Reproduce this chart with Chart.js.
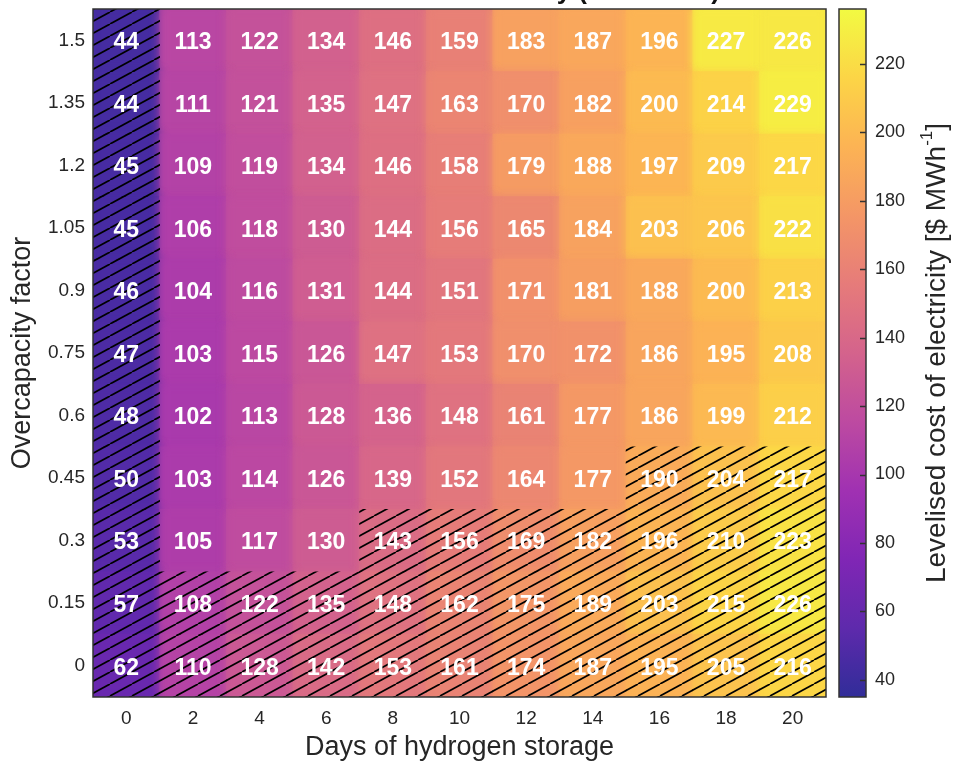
<!DOCTYPE html>
<html>
<head>
<meta charset="utf-8">
<script src="https://cdn.jsdelivr.net/npm/chart.js@4.4.1/dist/chart.umd.min.js"></script>
<style>
    html, body { margin: 0; padding: 0; background: #fff; }
    #wrap { position: relative; width: 955px; height: 765px; }
    #main { position: absolute; left: 0; top: 0; }
    #cbar { position: absolute; left: 830px; top: 0; }
</style>
</head>
<body>
<div id="wrap">
    <canvas id="main" width="830" height="765"></canvas>
    <canvas id="cbar" width="125" height="765"></canvas>
</div>
<script>
// x categories: days of hydrogen storage
const days = ['0', '2', '4', '6', '8', '10', '12', '14', '16', '18', '20'];
// y categories, bottom to top
const overcapacity = ['0', '0.15', '0.3', '0.45', '0.6', '0.75', '0.9', '1.05', '1.2', '1.35', '1.5'];

// LCOE per row (same order as overcapacity), one value per day
const lcoe0    = [62, 110, 128, 142, 153, 161, 174, 187, 195, 205, 216];
const lcoe015  = [57, 108, 122, 135, 148, 162, 175, 189, 203, 215, 226];
const lcoe03   = [53, 105, 117, 130, 143, 156, 169, 182, 196, 210, 223];
const lcoe045  = [50, 103, 114, 126, 139, 152, 164, 177, 190, 204, 217];
const lcoe06   = [48, 102, 113, 128, 136, 148, 161, 177, 186, 199, 212];
const lcoe075  = [47, 103, 115, 126, 147, 153, 170, 172, 186, 195, 208];
const lcoe09   = [46, 104, 116, 131, 144, 151, 171, 181, 188, 200, 213];
const lcoe105  = [45, 106, 118, 130, 144, 156, 165, 184, 203, 206, 222];
const lcoe12   = [45, 109, 119, 134, 146, 158, 179, 188, 197, 209, 217];
const lcoe135  = [44, 111, 121, 135, 147, 163, 170, 182, 200, 214, 229];
const lcoe15   = [44, 113, 122, 134, 146, 159, 183, 187, 196, 227, 226];
const lcoeRows = [lcoe0, lcoe015, lcoe03, lcoe045, lcoe06, lcoe075, lcoe09, lcoe105, lcoe12, lcoe135, lcoe15];

// hatched cells (1 = hatched), same row order
const hatch0   = [1, 1, 1, 1, 1, 1, 1, 1, 1, 1, 1];
const hatch015 = [1, 1, 1, 1, 1, 1, 1, 1, 1, 1, 1];
const hatch03  = [1, 0, 0, 0, 1, 1, 1, 1, 1, 1, 1];
const hatch045 = [1, 0, 0, 0, 0, 0, 0, 0, 1, 1, 1];
const hatchTop = [1, 0, 0, 0, 0, 0, 0, 0, 0, 0, 0];
const hatchRows = [hatch0, hatch015, hatch03, hatch045, hatchTop, hatchTop, hatchTop, hatchTop, hatchTop, hatchTop, hatchTop];

// colour scale
const colorMin = 35;
const colorMax = 236;
const colorTicks = [40, 60, 80, 100, 120, 140, 160, 180, 200, 220];

const plasma = [
    [13, 8, 135], [65, 4, 157], [106, 0, 168], [143, 13, 164], [177, 42, 144],
    [204, 71, 120], [225, 100, 98], [242, 132, 75], [252, 166, 54], [252, 206, 37], [240, 249, 33]
];
const washAlpha = 0.85;

function plasmaAt(t) {
    t = Math.max(0, Math.min(1, t));
    const p = t * (plasma.length - 1);
    const i = Math.min(Math.floor(p), plasma.length - 2);
    const f = p - i;
    const c = plasma[i].map((v, k) => v + (plasma[i + 1][k] - v) * f);
    const w = c.map(v => Math.round(v * washAlpha + 255 * (1 - washAlpha)));
    return `rgb(${w[0]},${w[1]},${w[2]})`;
}

function colorFor(v) {
    return plasmaAt((v - colorMin) / (colorMax - colorMin));
}

function makeHatch() {
    const w = 22, h = 12;
    const c = document.createElement('canvas');
    c.width = w; c.height = h;
    const g = c.getContext('2d');
    g.strokeStyle = '#000';
    g.lineWidth = 1.7;
    for (const dx of [-w, 0, w]) {
        g.beginPath();
        g.moveTo(dx, h);
        g.lineTo(dx + w, 0);
        g.stroke();
    }
    return g.createPattern(c, 'repeat');
}
const hatchPattern = makeHatch();

const fontFam = "'Liberation Sans', Arial, Helvetica, sans-serif";
const textColor = '#262626';

const colourSets = lcoeRows.map((row, r) => ({
    data: row.map(() => [r - 0.5, r + 0.5]),
    backgroundColor: row.map(v => colorFor(v)),
    order: 2
}));
const hatchSets = hatchRows.map((row, r) => ({
    data: row.map(h => h ? [r - 0.5, r + 0.5] : null),
    backgroundColor: hatchPattern,
    order: 1
}));

// soften the cell edges like an interpolated image
const smoothCells = {
    id: 'smoothCells',
    afterDatasetDraw(chart, args) {
        if (chart.data.datasets[args.index].order !== 2) return;
        const { ctx, chartArea: a } = chart;
        ctx.save();
        ctx.beginPath();
        ctx.rect(a.left, a.top, a.right - a.left, a.bottom - a.top);
        ctx.clip();
        ctx.filter = 'blur(5px)';
        args.meta.controller.draw();
        ctx.restore();
    }
};

const cellLabels = {
    id: 'cellLabels',
    afterDatasetsDraw(chart) {
        const { ctx, scales: { x, y } } = chart;
        ctx.save();
        ctx.fillStyle = '#fff';
        ctx.font = 'bold 23px ' + fontFam;
        ctx.textAlign = 'center';
        ctx.textBaseline = 'middle';
        lcoeRows.forEach((row, r) => {
            row.forEach((v, c) => {
                ctx.fillText(String(v), x.getPixelForValue(c), y.getPixelForValue(r) + 2.5);
            });
        });
        ctx.restore();
    }
};

const frame = {
    id: 'frame',
    afterDraw(chart) {
        const { ctx, chartArea: a } = chart;
        ctx.save();
        ctx.strokeStyle = '#333';
        ctx.lineWidth = 1.5;
        ctx.strokeRect(a.left, a.top, a.right - a.left, a.bottom - a.top);
        ctx.restore();
    }
};

const topTitle = {
    id: 'topTitle',
    afterDraw(chart) {
        const { ctx } = chart;
        ctx.save();
        ctx.fillStyle = '#111';
        ctx.font = 'bold 26px ' + fontFam;
        ctx.textAlign = 'right';
        ctx.textBaseline = 'alphabetic';
        ctx.fillText('Levelised cost of electricity (base case)', 720, -1);
        ctx.restore();
    }
};

new Chart(document.getElementById('main'), {
    type: 'bar',
    data: {
        labels: days,
        datasets: [...hatchSets, ...colourSets]
    },
    options: {
        responsive: false,
        animation: false,
        layout: { padding: { left: 0, top: 9, right: 4, bottom: 0 } },
        datasets: {
            bar: {
                grouped: false,
                barPercentage: 1,
                categoryPercentage: 1,
                borderWidth: 0
            }
        },
        plugins: {
            legend: { display: false },
            tooltip: { enabled: false }
        },
        scales: {
            x: {
                type: 'category',
                grid: { display: false, drawTicks: false },
                border: { display: false },
                ticks: { color: textColor, font: { size: 19, family: fontFam }, padding: 10 },
                title: {
                    display: true,
                    text: 'Days of hydrogen storage',
                    color: textColor,
                    font: { size: 27, family: fontFam },
                    padding: { top: 0, bottom: 1 }
                },
                afterFit(s) { s.height = 68; s.paddingLeft = 0; s.paddingRight = 0; }
            },
            y: {
                type: 'linear',
                min: -0.5,
                max: 10.5,
                grid: { display: false, drawTicks: false },
                border: { display: false },
                afterBuildTicks(s) { s.ticks = overcapacity.map((_, i) => ({ value: i })); },
                ticks: {
                    color: textColor,
                    font: { size: 19, family: fontFam },
                    padding: 8,
                    callback: v => overcapacity[v]
                },
                title: {
                    display: true,
                    text: 'Overcapacity factor',
                    color: textColor,
                    font: { size: 27, family: fontFam },
                    padding: { top: 6, bottom: 0 }
                },
                afterFit(s) { s.width = 93; s.paddingTop = 0; s.paddingBottom = 0; }
            }
        }
    },
    plugins: [smoothCells, cellLabels, frame, topTitle]
});

// colour bar
const cbarDecor = {
    id: 'cbarDecor',
    afterDraw(chart) {
        const { ctx, chartArea: a, scales: { y } } = chart;
        ctx.save();
        ctx.strokeStyle = '#333';
        ctx.lineWidth = 1.5;
        colorTicks.forEach(v => {
            const py = Math.round(y.getPixelForValue(v)) + 0.5;
            ctx.beginPath();
            ctx.moveTo(a.right - 6, py);
            ctx.lineTo(a.right, py);
            ctx.stroke();
        });
        ctx.strokeRect(a.left, a.top, a.right - a.left, a.bottom - a.top);

        // rotated label with superscript
        ctx.translate(105, (a.top + a.bottom) / 2);
        ctx.rotate(-Math.PI / 2);
        ctx.fillStyle = textColor;
        ctx.textBaseline = 'middle';
        ctx.textAlign = 'left';
        const big = '28px ' + fontFam, small = '17px ' + fontFam;
        const p1 = 'Levelised cost of electricity [$ MWh', p2 = '-1', p3 = ']';
        ctx.font = big; const w1 = ctx.measureText(p1).width, w3 = ctx.measureText(p3).width;
        ctx.font = small; const w2 = ctx.measureText(p2).width;
        const x0 = -(w1 + w2 + w3) / 2;
        ctx.font = big; ctx.fillText(p1, x0, 2);
        ctx.font = small; ctx.fillText(p2, x0 + w1, -8);
        ctx.font = big; ctx.fillText(p3, x0 + w1 + w2, 2);
        ctx.restore();
    }
};

new Chart(document.getElementById('cbar'), {
    type: 'bar',
    data: {
        labels: ['LCOE'],
        datasets: [{
            data: [[colorMin, colorMax]],
            barPercentage: 1,
            categoryPercentage: 1,
            borderWidth: 0,
            backgroundColor(ctx) {
                const chart = ctx.chart;
                const y = chart.scales && chart.scales.y;
                if (!y || !chart.chartArea) return plasmaAt(0.5);
                const top = y.getPixelForValue(colorMax), bottom = y.getPixelForValue(colorMin);
                if (!isFinite(top) || !isFinite(bottom)) return plasmaAt(0.5);
                const g = chart.ctx.createLinearGradient(0, bottom, 0, top);
                for (let i = 0; i <= 20; i++) g.addColorStop(i / 20, plasmaAt(i / 20));
                return g;
            }
        }]
    },
    options: {
        responsive: false,
        animation: false,
        layout: { padding: { left: 9, top: 9, right: 0, bottom: 68 } },
        plugins: { legend: { display: false }, tooltip: { enabled: false } },
        scales: {
            x: { display: false },
            y: {
                position: 'right',
                min: colorMin,
                max: colorMax,
                grid: { display: false, drawTicks: false },
                border: { display: false },
                afterBuildTicks(s) { s.ticks = colorTicks.map(v => ({ value: v })); },
                ticks: { color: textColor, font: { size: 18, family: fontFam }, padding: 9 },
                afterFit(s) { s.width = 89; s.paddingTop = 0; s.paddingBottom = 0; }
            }
        }
    },
    plugins: [cbarDecor]
});
</script>
</body>
</html>
